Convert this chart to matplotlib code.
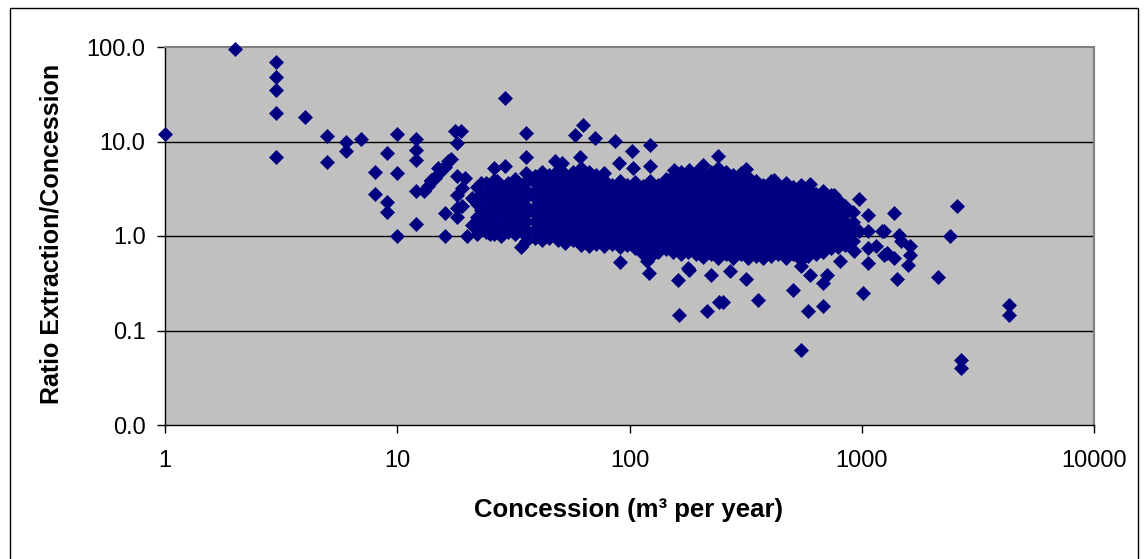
import matplotlib

matplotlib.use("Agg")
import matplotlib.pyplot as plt
from matplotlib.patches import Rectangle
from matplotlib.ticker import NullLocator

plt.rcParams["font.family"] = ["Liberation Sans", "DejaVu Sans"]

# sparse points at small concessions
small_x = [1, 2, 3, 3, 3, 3, 3, 4, 5, 5, 6, 6, 7, 8, 8, 9, 9, 9, 10, 10, 10,
           12, 12, 12, 12, 12, 13, 13.5, 14, 14.5, 15, 15.5, 16, 16.5, 16, 16,
           17, 17.8, 18.9, 18, 15, 14, 18, 19.6, 18, 19, 21, 18, 19, 20, 18]
small_y = [12, 95, 70, 48, 35, 20, 6.8, 18, 11.5, 6.1, 9.8, 8.0, 10.5, 4.8, 2.8, 7.5, 2.3, 1.8, 12, 4.6, 1.0,
           10.5, 8.2, 6.3, 3.0, 1.35, 3.0, 3.4, 3.8, 4.1, 4.5, 5.0, 5.4, 6.2, 1.75, 1.0,
           6.5, 12.8, 12.8, 9.6, 5.2, 3.9, 4.3, 4.1, 2.7, 3.2, 2.5, 2.0, 2.1, 1.0, 1.6]

# loose group between 20 and 35
loose_x = [21, 22, 22, 22, 22, 23, 23, 23, 23, 23, 24, 24, 24, 24, 25, 25, 25, 25, 25, 25,
           26, 26, 26, 26, 27, 27, 27, 27, 27, 27, 28, 28, 28, 28, 29, 29, 29, 29,
           30, 30, 30, 30, 31, 31, 31, 32, 32, 32, 32, 32, 33, 33, 33, 33, 34, 34, 34, 34]
loose_y = [1.3, 3.3, 2.2, 1.6, 1.05, 2.8, 1.9, 1.25, 3.6, 1.55, 3.6, 2.4, 1.5, 1.1, 3.1, 2.0, 1.3, 2.5, 1.6, 1.05,
           3.9, 2.7, 1.75, 1.05, 3.3, 2.3, 1.45, 3.8, 1.8, 1.15, 2.9, 2.0, 1.2, 1.0, 3.3, 2.2, 1.5, 1.25,
           3.6, 2.5, 1.75, 1.1, 2.8, 1.9, 1.3, 4.0, 3.1, 2.2, 1.5, 1.05, 3.0, 2.4, 1.6, 1.15, 3.5, 2.7, 1.9, 1.3]

# dense cloud, read column by column
core_x = [36, 39, 42, 45, 49, 53, 57, 62, 67, 72, 78, 84, 91, 98, 106, 114, 123, 133, 143, 154,
          166, 179, 193, 208, 224, 241, 260, 280, 302, 325, 350, 377, 406, 437, 471, 507, 546,
          588, 633, 682, 735, 792, 850, 920]
core_y = [
    [4.6, 3.8, 3.1, 2.6, 2.1, 1.75, 1.45, 1.2, 1.0, 0.88],
    [4.3, 3.6, 3.0, 2.5, 2.05, 1.7, 1.4, 1.15, 0.95],
    [4.8, 4.0, 3.3, 2.7, 2.25, 1.85, 1.55, 1.3, 1.08, 0.9],
    [4.4, 3.7, 3.0, 2.5, 2.05, 1.7, 1.4, 1.15, 0.95],
    [5.0, 4.1, 3.4, 2.8, 2.3, 1.9, 1.6, 1.3, 1.08, 0.9],
    [4.5, 3.7, 3.1, 2.55, 2.1, 1.75, 1.45, 1.2, 1.0, 0.85],
    [4.8, 4.0, 3.3, 2.7, 2.25, 1.85, 1.55, 1.3, 1.08, 0.9],
    [5.2, 4.4, 3.6, 3.0, 2.5, 2.05, 1.7, 1.4, 1.15, 0.95, 0.8],
    [4.8, 4.0, 3.3, 2.7, 2.25, 1.85, 1.55, 1.3, 1.08, 0.9, 0.78],
    [4.4, 3.6, 3.0, 2.5, 2.05, 1.7, 1.4, 1.15, 0.95, 0.82],
    [4.6, 3.9, 3.2, 2.7, 2.2, 1.85, 1.55, 1.3, 1.08, 0.9, 0.78],
    [3.5, 2.9, 2.4, 2.0, 1.65, 1.4, 1.15, 0.95, 0.82],
    [3.8, 3.2, 2.6, 2.2, 1.8, 1.5, 1.25, 1.05, 0.88, 0.76],
    [3.5, 2.9, 2.4, 2.0, 1.65, 1.38, 1.15, 0.95, 0.8],
    [3.7, 3.1, 2.55, 2.1, 1.75, 1.45, 1.2, 1.0, 0.85, 0.74],
    [3.4, 2.8, 2.35, 1.95, 1.6, 1.33, 1.1, 0.92, 0.78, 0.65],
    [3.8, 3.1, 2.6, 2.15, 1.8, 1.5, 1.25, 1.03, 0.86, 0.72, 0.6],
    [3.5, 2.9, 2.4, 2.0, 1.65, 1.38, 1.15, 0.95, 0.8, 0.68],
    [4.0, 3.2, 2.55, 2.1, 1.75, 1.45, 1.2, 1.0, 0.85, 0.72],
    [4.3, 3.5, 2.9, 2.4, 2.0, 1.65, 1.38, 1.15, 0.95, 0.8, 0.68],
    [4.7, 3.9, 3.2, 2.7, 2.2, 1.85, 1.55, 1.3, 1.08, 0.9, 0.76, 0.64],
    [4.4, 3.6, 3.0, 2.5, 2.05, 1.7, 1.4, 1.15, 0.95, 0.8, 0.68],
    [4.8, 4.0, 3.3, 2.7, 2.25, 1.85, 1.55, 1.3, 1.08, 0.9, 0.76, 0.64],
    [4.3, 3.5, 2.9, 2.4, 2.0, 1.65, 1.38, 1.15, 0.95, 0.8, 0.68, 0.6],
    [4.8, 4.0, 3.3, 2.7, 2.25, 1.85, 1.55, 1.3, 1.08, 0.9, 0.76, 0.64],
    [5.3, 4.4, 3.6, 3.0, 2.5, 2.05, 1.7, 1.4, 1.15, 0.95, 0.8, 0.68, 0.58],
    [4.8, 4.0, 3.3, 2.7, 2.25, 1.85, 1.55, 1.3, 1.08, 0.9, 0.76, 0.64],
    [4.4, 3.6, 3.0, 2.5, 2.05, 1.7, 1.4, 1.15, 0.95, 0.8, 0.68, 0.58],
    [4.6, 3.9, 3.2, 2.7, 2.2, 1.85, 1.55, 1.3, 1.08, 0.9, 0.76, 0.64],
    [4.2, 3.5, 2.9, 2.4, 2.0, 1.65, 1.38, 1.15, 0.95, 0.8, 0.68, 0.58],
    [3.8, 3.2, 2.6, 2.2, 1.8, 1.5, 1.25, 1.05, 0.88, 0.74, 0.62],
    [3.5, 2.9, 2.4, 2.0, 1.65, 1.38, 1.15, 0.95, 0.8, 0.68, 0.58],
    [3.8, 3.2, 2.6, 2.2, 1.8, 1.5, 1.25, 1.05, 0.88, 0.74, 0.62],
    [3.4, 2.8, 2.35, 1.95, 1.6, 1.33, 1.1, 0.92, 0.78, 0.65],
    [3.6, 3.0, 2.5, 2.05, 1.7, 1.4, 1.15, 0.95, 0.8, 0.68, 0.58],
    [3.3, 2.7, 2.25, 1.85, 1.55, 1.3, 1.08, 0.9, 0.76, 0.64],
    [3.5, 2.9, 2.4, 2.0, 1.65, 1.38, 1.15, 0.95, 0.8, 0.68, 0.56],
    [3.2, 2.6, 2.2, 1.8, 1.5, 1.25, 1.05, 0.88, 0.74, 0.62],
    [2.8, 2.35, 1.95, 1.6, 1.33, 1.1, 0.92, 0.78, 0.65],
    [3.0, 2.5, 2.05, 1.7, 1.4, 1.15, 0.95, 0.8, 0.68],
    [2.7, 2.2, 1.8, 1.5, 1.25, 1.05, 0.88, 0.74],
    [2.4, 2.0, 1.6, 1.3, 1.08, 0.9, 0.76],
    [2.1, 1.7, 1.4, 1.15, 0.95, 0.8],
    [1.8, 1.4, 1.1, 0.88],
]

# points above the cloud
upper_x = [26, 29, 36, 36, 29, 48, 51, 63, 58, 71, 87, 103, 122, 90, 61, 122, 104, 155, 180, 208,
           240, 316, 417, 600, 756]
upper_y = [5.2, 5.5, 12.3, 6.8, 29, 6.2, 5.9, 14.9, 11.7, 10.9, 10.1, 7.9, 9.2, 5.9, 6.8, 5.5, 5.2, 5.0, 5.0, 5.6,
           7.0, 5.1, 3.9, 3.55, 2.7]

# points below the cloud
lower_x = [34, 49, 91, 119, 121, 161, 164, 178, 180, 225, 271, 316, 243, 253, 216, 359, 505, 587, 684,
           546, 684, 546, 600, 710, 810]
lower_y = [0.76, 0.95, 0.53, 0.54, 0.41, 0.34, 0.145, 0.46, 0.44, 0.39, 0.43, 0.35, 0.2, 0.2, 0.16, 0.21,
           0.27, 0.16, 0.18, 0.062, 0.32, 0.48, 0.39, 0.39, 0.54]

# large concessions
large_x = [970, 1060, 1370, 2560, 2410, 2130, 1420, 1010, 4300, 4300, 2680, 2680, 970, 1060, 1250,
           1440, 1470, 1620, 1620, 1580, 1370, 1250, 1150, 1060, 1060, 1220, 1290, 880, 900, 930]
large_y = [2.45, 1.67, 1.75, 2.1, 1.0, 0.37, 0.35, 0.25, 0.185, 0.145, 0.049, 0.04, 1.13, 1.13, 1.13,
           1.02, 0.89, 0.78, 0.63, 0.49, 0.58, 0.63, 0.78, 0.75, 0.52, 1.13, 0.66, 0.95, 1.2, 0.7]

x_ticks = [1, 10, 100, 1000, 10000]
x_tick_labels = ["1", "10", "100", "1000", "10000"]
y_ticks = [0.01, 0.1, 1, 10, 100]
y_tick_labels = ["0.0", "0.1", "1.0", "10.0", "100.0"]

xs = small_x + loose_x + upper_x + lower_x + large_x
ys = small_y + loose_y + upper_y + lower_y + large_y
for cx, col in zip(core_x, core_y):
    xs += [cx] * len(col)
    ys += col

W, H = 1144, 559
fig = plt.figure(figsize=(W / 100, H / 100), dpi=100)
fig.patches.append(Rectangle((9.5 / W, -0.05), (1128) / W, 1.05 - 7.5 / H,
                             transform=fig.transFigure, fill=False, edgecolor="black", lw=1))

ax = fig.add_axes([165 / W, 1 - 425 / H, (1094 - 165) / W, (425 - 47) / H])
ax.set_facecolor("#C0C0C0")
ax.set_xscale("log")
ax.set_yscale("log")
ax.set_xlim(1, 10000)
ax.set_ylim(0.01, 100)

for v in [0.1, 1, 10]:
    ax.axhline(v, color="black", lw=1, zorder=1)

ax.plot(xs, ys, linestyle="none", marker="D", ms=6.9, color="#000080",
        mec="#000080", mew=0.5, clip_on=False, zorder=3)

ax.set_xticks(x_ticks)
ax.set_xticklabels(x_tick_labels)
ax.set_yticks(y_ticks)
ax.set_yticklabels(y_tick_labels)
ax.xaxis.set_minor_locator(NullLocator())
ax.yaxis.set_minor_locator(NullLocator())
ax.tick_params(axis="both", direction="out", length=6, width=1, labelsize=17, color="black")
ax.tick_params(axis="y", pad=8)
ax.tick_params(axis="x", pad=12)

for side in ["left", "bottom"]:
    ax.spines[side].set_color("black")
    ax.spines[side].set_linewidth(1)
for side in ["top", "right"]:
    ax.spines[side].set_color("#808080")
    ax.spines[side].set_linewidth(1.5)

fig.text(629 / W, 1 - 510 / H, "Concession (m³ per year)", ha="center", va="center",
         fontsize=18.5, fontweight="bold")
fig.text(52 / W, 1 - 234 / H, "Ratio Extraction/Concession", ha="center", va="center",
         rotation=90, fontsize=18, fontweight="bold")

fig.savefig("out.png", dpi=100)
